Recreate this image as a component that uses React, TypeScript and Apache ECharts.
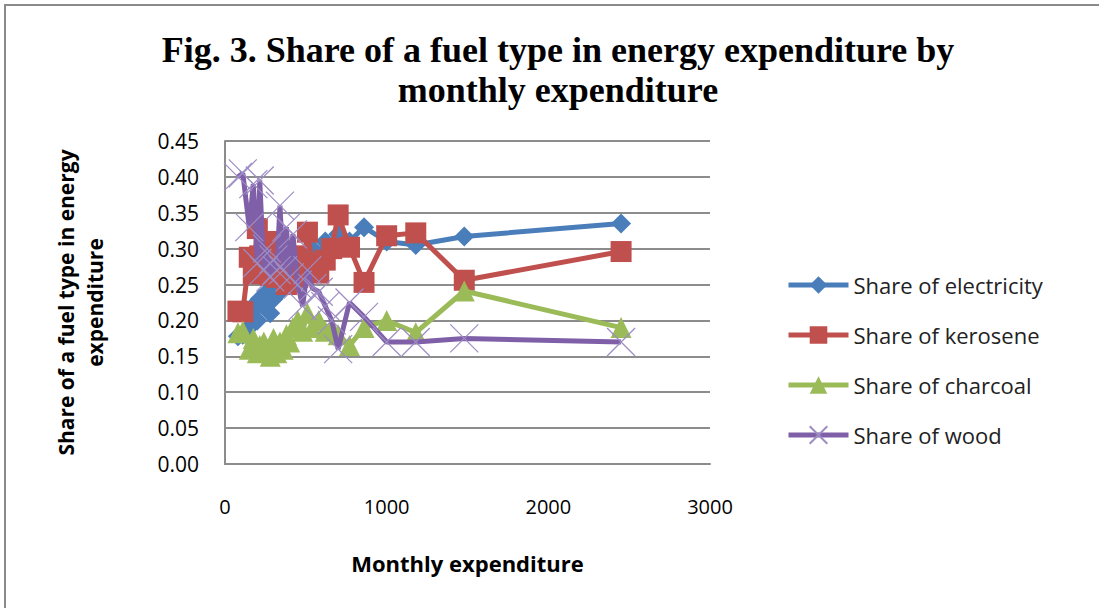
import React, { useEffect, useRef } from "react";
import * as echarts from "echarts";

const monthlyExpenditure = [80, 110, 150, 175, 200, 215, 240, 260, 280, 300, 320, 340, 360, 380, 400, 420, 450, 480, 510, 540, 580, 620, 660, 700, 770, 860, 1000, 1180, 1480, 2450];
const electricity = [0.178, 0.18, 0.19, 0.22, 0.2, 0.23, 0.22, 0.24, 0.21, 0.23, 0.25, 0.24, 0.26, 0.25, 0.27, 0.26, 0.28, 0.27, 0.29, 0.3, 0.29, 0.31, 0.3, 0.32, 0.31, 0.33, 0.31, 0.305, 0.317, 0.335];
const kerosene = [0.213, 0.212, 0.288, 0.265, 0.328, 0.29, 0.27, 0.31, 0.263, 0.3, 0.26, 0.29, 0.27, 0.25, 0.26, 0.29, 0.26, 0.27, 0.323, 0.28, 0.266, 0.284, 0.3, 0.347, 0.302, 0.253, 0.318, 0.322, 0.256, 0.296];
const charcoal = [0.183, 0.185, 0.16, 0.175, 0.155, 0.165, 0.17, 0.16, 0.15, 0.175, 0.155, 0.17, 0.16, 0.18, 0.17, 0.19, 0.2, 0.185, 0.21, 0.19, 0.2, 0.185, 0.19, 0.18, 0.165, 0.19, 0.2, 0.183, 0.241, 0.19];
const wood = [0.4, 0.405, 0.33, 0.39, 0.28, 0.395, 0.27, 0.3, 0.26, 0.285, 0.27, 0.36, 0.27, 0.33, 0.26, 0.32, 0.25, 0.22, 0.27, 0.245, 0.24, 0.22, 0.2, 0.16, 0.225, 0.205, 0.17, 0.17, 0.175, 0.17];

const seriesNames = ["Share of electricity", "Share of kerosene", "Share of charcoal", "Share of wood"];
const colors = ["#4A7EBB", "#C0504D", "#9BBB59", "#7F5FA8"];

const crossPath = "path://M0,0L1,1M1,0L0,1";

export default function App() {
  const ref = useRef<HTMLDivElement>(null);
  useEffect(() => {
    document.body.style.margin = "0";
    const chart = echarts.init(ref.current!, undefined, { renderer: "svg" });
    const values = [electricity, kerosene, charcoal, wood];
    const symbols = ["diamond", "rect", "triangle", crossPath];
    const sizes = [20, 21, 21, 28];
    const labelFont = "'Open Sans', 'Noto Sans', sans-serif";
    chart.setOption({
      animation: false,
      backgroundColor: "#ffffff",
      graphic: [
        { type: "line", shape: { x1: 4, y1: 5, x2: 1099, y2: 5 }, style: { stroke: "#8a8a8a", lineWidth: 2 } },
        { type: "line", shape: { x1: 5, y1: 4, x2: 5, y2: 608 }, style: { stroke: "#8a8a8a", lineWidth: 2 } },
        {
          type: "text",
          x: 558,
          y: 30,
          style: {
            text: "Fig. 3. Share of a fuel type in energy expenditure by\nmonthly expenditure",
            font: "bold 36px 'Liberation Serif', 'DejaVu Serif', serif",
            fill: "#000",
            align: "center",
            verticalAlign: "top",
            lineHeight: 40,
          },
        },
      ],
      legend: {
        orient: "vertical",
        left: 781,
        top: 269,
        itemWidth: 60,
        itemHeight: 22,
        itemGap: 28,
        lineStyle: { width: 5 },
        textStyle: { fontFamily: labelFont, fontSize: 22, color: "#222", padding: [0, 0, 0, 0] },
        data: seriesNames,
      },
      grid: { left: 225, right: 389, top: 141, bottom: 144, containLabel: false },
      xAxis: {
        type: "value",
        min: 0,
        max: 3000,
        interval: 1000,
        name: "Monthly expenditure",
        nameLocation: "middle",
        nameGap: 88,
        nameTextStyle: { fontFamily: labelFont, fontSize: 22, fontWeight: "bold", color: "#000" },
        axisLine: { show: true, lineStyle: { color: "#8c8c8c", width: 2 } },
        axisTick: { show: false },
        splitLine: { show: false },
        axisLabel: { fontFamily: labelFont, fontSize: 20, color: "#000", margin: 32, formatter: (v: number) => String(v) },
      },
      yAxis: {
        type: "value",
        min: 0,
        max: 0.45,
        interval: 0.05,
        name: "Share of a fuel type in energy\nexpenditure",
        nameLocation: "middle",
        nameGap: 116,
        nameTextStyle: { fontFamily: labelFont, fontSize: 21, fontWeight: "bold", color: "#000", lineHeight: 29 },
        axisLine: { show: true, lineStyle: { color: "#8c8c8c", width: 2 } },
        axisTick: { show: false },
        splitLine: { show: true, lineStyle: { color: "#8c8c8c", width: 2 } },
        axisLabel: {
          fontFamily: labelFont,
          fontSize: 21,
          color: "#000",
          margin: 26,
          formatter: (v: number) => v.toFixed(2),
        },
      },
      series: seriesNames.map((name, i) => ({
        name,
        type: "line",
        data: monthlyExpenditure.map((x, j) => [x, values[i][j]]),
        symbol: symbols[i],
        symbolSize: sizes[i],
        showSymbol: true,
        lineStyle: { color: colors[i], width: 5 },
        itemStyle:
          i === 3
            ? { color: "rgba(0,0,0,0)", borderColor: "#9d8cc4", borderWidth: 1.2 }
            : { color: colors[i], borderColor: colors[i], borderWidth: 0 },
        z: 2 + i,
      })),
    });
    return () => chart.dispose();
  }, []);
  return <div ref={ref} style={{ width: 1099, height: 608 }} />;
}
